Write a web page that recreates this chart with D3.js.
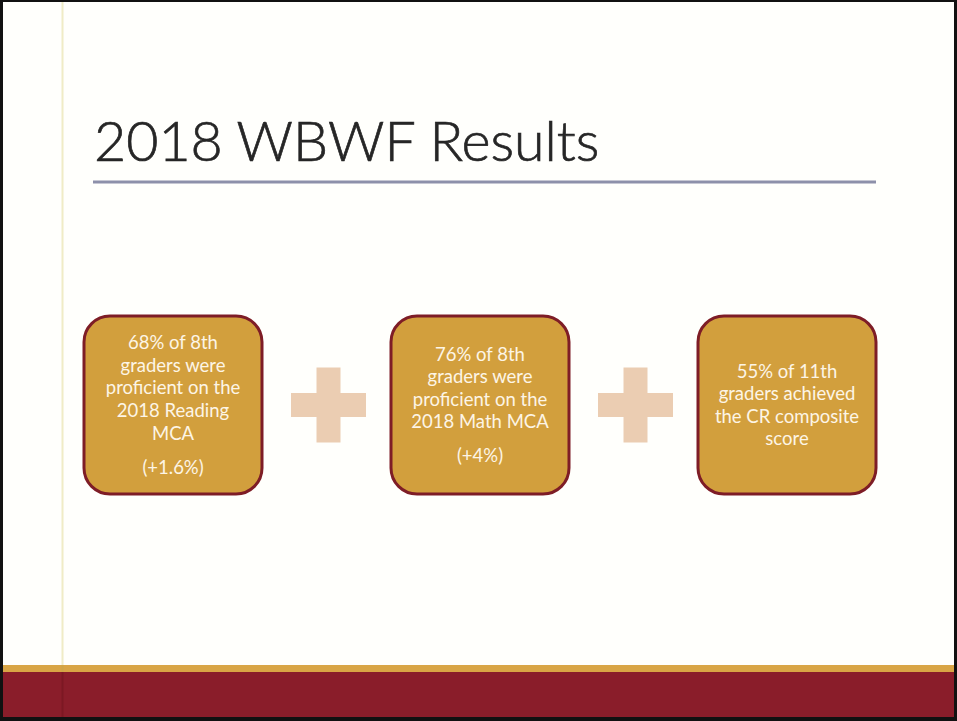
<!DOCTYPE html>
<html>
<head>
<meta charset="utf-8">
<script src="https://cdn.jsdelivr.net/npm/d3@7"></script>
<style>
  html, body { margin: 0; padding: 0; background: #000; }
  svg { display: block; }
</style>
</head>
<body>
<script>
// Slide size
var width = 957;
var height = 721;

// Content of the slide
var title = "2018 WBWF Results";
var boxNames = ["reading", "math", "cr"];
var boxLines = [
    ["68% of 8th", "graders were", "proficient on the", "2018 Reading", "MCA"],
    ["76% of 8th", "graders were", "proficient on the", "2018 Math MCA"],
    ["55% of 11th", "graders achieved", "the CR composite", "score"]
];
var boxChange = ["(+1.6%)", "(+4%)", ""];

var svg = d3.select("body")
    .append("svg")
    .attr("width", width)
    .attr("height", height)

// Black frame and the page
svg.append("rect").attr("width", width).attr("height", height).attr("fill", "#111");
svg.append("rect")
    .attr("x", 3).attr("y", 2)
    .attr("width", width - 6).attr("height", height - 6)
    .attr("fill", "#fffffc");

// Bottom bands
svg.append("rect").attr("x", 3).attr("y", 665).attr("width", width - 6).attr("height", 8).attr("fill", "#d9a545");
svg.append("rect").attr("x", 3).attr("y", 672).attr("width", width - 6).attr("height", 45).attr("fill", "#8a1d2a");

// Faint vertical line on the left
svg.append("line")
    .attr("x1", 62.5).attr("x2", 62.5).attr("y1", 2).attr("y2", 665)
    .attr("stroke", "#f0ecc6").attr("stroke-width", 2);
svg.append("line")
    .attr("x1", 62.5).attr("x2", 62.5).attr("y1", 665).attr("y2", 672)
    .attr("stroke", "#cfa548").attr("stroke-width", 2);
svg.append("line")
    .attr("x1", 62.5).attr("x2", 62.5).attr("y1", 672).attr("y2", 717)
    .attr("stroke", "#7c1823").attr("stroke-width", 2);

// Title and rule (light weight, slightly thickened to look like Calibri Light)
svg.append("text")
    .attr("x", 94).attr("y", 161)
    .attr("font-family", "Lato, 'Open Sans', sans-serif")
    .attr("font-weight", 300)
    .attr("font-size", 55.5)
    .attr("fill", "#262626")
    .attr("stroke", "#262626")
    .attr("stroke-width", 0.7)
    .text(title);

svg.append("line")
    .attr("x1", 93).attr("x2", 876).attr("y1", 182).attr("y2", 182)
    .attr("stroke", "#8d90aa").attr("stroke-width", 3);

// Box positions
var boxSize = 178;
var x = d3.scalePoint()
    .domain(boxNames)
    .range([173, 787]);
var boxY = 405;

var boxes = svg.selectAll("g.box")
    .data(boxNames)
    .enter()
    .append("g")
    .attr("class", "box")
    .attr("transform", function (d) { return "translate(" + x(d) + "," + boxY + ")"; });

boxes.append("rect")
    .attr("x", -boxSize / 2).attr("y", -boxSize / 2)
    .attr("width", boxSize).attr("height", boxSize)
    .attr("rx", 26).attr("ry", 26)
    .attr("fill", "#d29f3d")
    .attr("stroke", "#7e1d26")
    .attr("stroke-width", 3);

var lineH = 22.6;
var changeGap = 34;

boxes.each(function (d, i) {
    var lines = boxLines[i];
    var change = boxChange[i];
    var total = (lines.length - 1) * lineH + (change ? changeGap : 0);
    var top = -total / 2;
    var g = d3.select(this);
    var items = lines.map(function (t, j) { return { t: t, y: top + j * lineH }; });
    if (change) items.push({ t: change, y: top + (lines.length - 1) * lineH + changeGap });
    g.selectAll("text")
        .data(items)
        .enter()
        .append("text")
        .attr("x", 0)
        .attr("y", function (e) { return e.y; })
        .attr("dy", "0.35em")
        .attr("text-anchor", "middle")
        .attr("font-family", "Lato, 'Open Sans', sans-serif")
        .attr("font-size", 18.5)
        .attr("fill", "#fdf5e6")
        .text(function (e) { return e.t; });
});

// Plus signs between boxes
var plusPairs = d3.pairs(boxNames);
var plusSize = 75, plusArm = 24;
var plus = svg.selectAll("g.plus")
    .data(plusPairs)
    .enter()
    .append("g")
    .attr("class", "plus")
    .attr("transform", function (p) { return "translate(" + ((x(p[0]) + x(p[1])) / 2 + 2) + "," + boxY + ")"; });

plus.append("rect")
    .attr("x", -plusSize / 2).attr("y", -plusArm / 2)
    .attr("width", plusSize).attr("height", plusArm)
    .attr("fill", "#ebcdb2");
plus.append("rect")
    .attr("x", -plusArm / 2).attr("y", -plusSize / 2)
    .attr("width", plusArm).attr("height", plusSize)
    .attr("fill", "#ebcdb2");
</script>
</body>
</html>
